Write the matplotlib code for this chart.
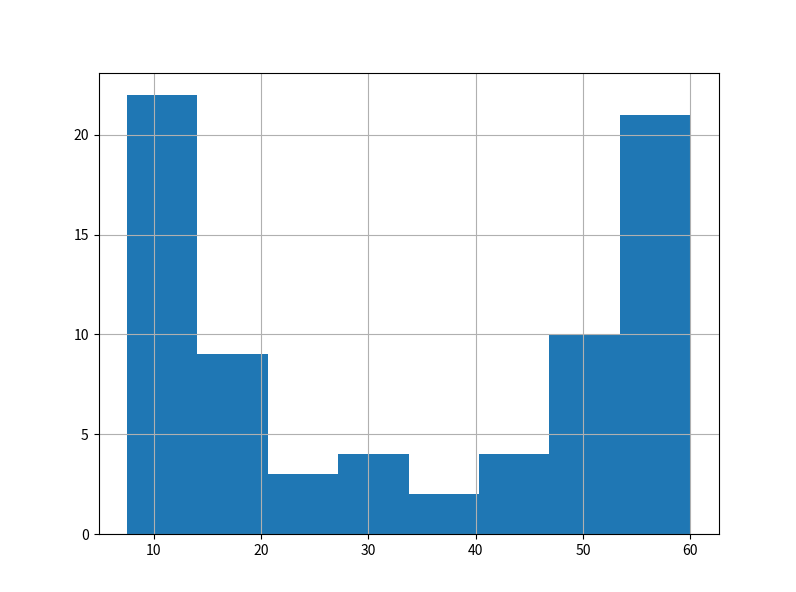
import numpy as np
import matplotlib
matplotlib.use('Agg')
import matplotlib.pyplot as plt

plt.rcParams['font.family'] = ['Noto Sans CJK SC', 'DejaVu Sans']

# Histogram bins (8 equal bins between min and max) and counts
bin_min = 7.5
bin_max = 60.0
n_bins = 8
counts = [22, 9, 3, 4, 2, 4, 10, 21]

edges = np.linspace(bin_min, bin_max, n_bins + 1)

fig = plt.figure(figsize=(7.96, 5.92), dpi=100)
ax = fig.add_axes([98.5 / 796, 1 - 534 / 592, 620 / 796, 461 / 592])
ax.hist(edges[:-1], bins=edges, weights=counts, color='#1f77b4')
ax.grid(True)
ax.set_yticks([0, 5, 10, 15, 20])

plt.savefig('out.png')
